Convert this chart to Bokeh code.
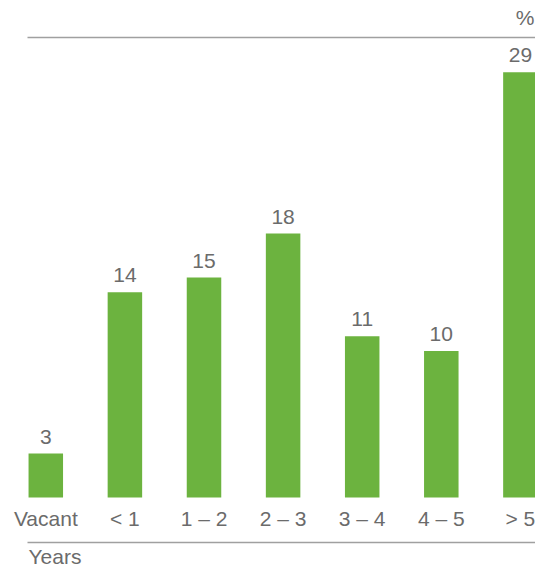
from bokeh.plotting import figure
from bokeh.models import Range1d
from bokeh.core.properties import value
from bokeh.embed import file_html
from bokeh.resources import INLINE

# ---- data ----
categories = ["Vacant", "< 1", "1 – 2", "2 – 3", "3 – 4", "4 – 5", "> 5"]
shares = [3, 14, 15, 18, 11, 10, 29]
value_labels = [str(v) for v in shares]
unit_label = "%"
axis_title = "Years"

# ---- layout constants (pixels) ----
W, H = 535, 567
X0_PX = 45.3          # centre of first bar
STEP_PX = 79.1        # distance between bar centres
BAR_PX = 34.5         # bar width
BASE_PX = 497         # baseline, from top
UNIT_PX = 14.66       # pixels per percentage point
TXT_SHIFT = 9         # renderer baseline correction (px)

x_start = -X0_PX / STEP_PX
x_end = (W - X0_PX) / STEP_PX
y_start = -(H - BASE_PX) / UNIT_PX
y_end = BASE_PX / UNIT_PX


def px_x(x):
    return x_start + x / STEP_PX


def px_y(y_top):
    return y_end - (y_top - TXT_SHIFT) / UNIT_PX


GREEN = "#6cb33f"
TEXT = "#6b6b6b"
RULE = "#a0a0a0"
FONT = value("Liberation Sans")
FS = "21px"

p = figure(width=W, height=H, output_backend="svg", toolbar_location=None,
           x_range=Range1d(x_start, x_end), y_range=Range1d(y_start, y_end),
           min_border=0, min_border_left=0, min_border_right=0,
           min_border_top=0, min_border_bottom=0,
           x_axis_type=None, y_axis_type=None)
p.outline_line_color = None
p.grid.visible = False
p.background_fill_color = "white"
p.border_fill_color = "white"

xs = list(range(len(categories)))

p.vbar(x=xs, top=shares, bottom=0, width=BAR_PX / STEP_PX,
       fill_color=GREEN, line_color=None)

# value labels
p.text(x=xs, y=[v + (8 + TXT_SHIFT) / UNIT_PX for v in shares], text=value_labels,
       text_align="center", text_baseline="alphabetic",
       text_font=FONT, text_font_size=FS, text_color=TEXT)

# category labels
p.text(x=xs, y=[px_y(527)] * len(xs), text=categories,
       text_align="center", text_baseline="alphabetic",
       text_font=FONT, text_font_size=FS, text_color=TEXT)

# rules (no text correction)
y_top_rule = y_end - 37 / UNIT_PX
y_bot_rule = y_end - 542 / UNIT_PX
p.segment(x0=[px_x(27), px_x(27)], y0=[y_top_rule, y_bot_rule],
          x1=[px_x(535), px_x(535)], y1=[y_top_rule, y_bot_rule],
          line_color=RULE, line_width=1.5)

# unit and axis title
p.text(x=[px_x(534)], y=[px_y(26)], text=[unit_label],
       text_align="right", text_baseline="alphabetic",
       text_font=FONT, text_font_size=FS, text_color=TEXT)
p.text(x=[px_x(28)], y=[px_y(565)], text=[axis_title],
       text_align="left", text_baseline="alphabetic",
       text_font=FONT, text_font_size=FS, text_color=TEXT)

open("out.html", "w").write(file_html(p, INLINE))
